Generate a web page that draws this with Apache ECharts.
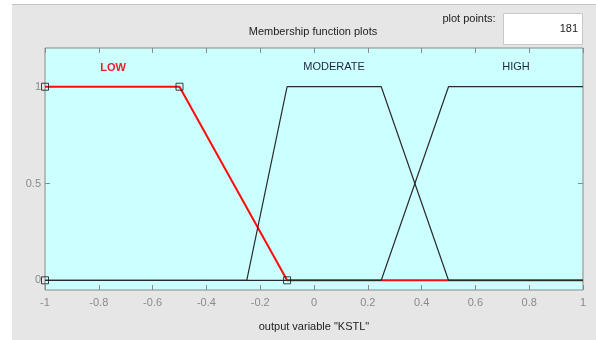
<!DOCTYPE html>
<html><head><meta charset="utf-8">
<script src="https://cdn.jsdelivr.net/npm/echarts@6/dist/echarts.min.js"></script>
<style>html,body{margin:0;padding:0;background:#fff}#c{width:596px;height:340px}</style>
</head><body><div id="c"></div>
<script>
const lowX = [-1, -0.5, -0.1, 1];
const lowY = [1, 1, 0, 0];
const moderateX = [-1, -0.25, -0.1, 0.25, 0.5, 1];
const moderateY = [0, 0, 1, 1, 0, 0];
const highX = [-1, 0.25, 0.5, 1];
const highY = [0, 0, 1, 1];
const markerX = [-1, -1, -0.5, -0.1];
const markerY = [0, 1, 1, 0];
const yTicks = [0, 0.5, 1];
const mfNames = ['LOW', 'MODERATE', 'HIGH'];
const titleText = 'Membership function plots';
const xAxisName = 'output variable "KSTL"';
const plotPoints = '181';

const zip = (xs, ys) => xs.map((x, i) => [x, ys[i]]);
const chart = echarts.init(document.getElementById('c'), null, {renderer: 'canvas'});
const font = '"Liberation Sans", Arial, sans-serif';
const tickStyle = {color: '#8a8a8a', width: 1};
const noLine = {show: false, onZero: false};
chart.setOption({
  animation: false,
  backgroundColor: '#ffffff',
  graphic: [
    {type: 'rect', z: -10, shape: {x: 12, y: 4, width: 584, height: 336}, style: {fill: '#e6e6e6'}},
    {type: 'line', z: -9, shape: {x1: 12, y1: 4.5, x2: 596, y2: 4.5}, style: {stroke: '#c4c4c4', lineWidth: 1}},
    {type: 'rect', shape: {x: 503.5, y: 13.5, width: 79, height: 31}, style: {fill: '#ffffff', stroke: '#c8c8c8', lineWidth: 1}},
    {type: 'text', x: 578, y: 29, style: {text: plotPoints, fill: '#222', font: '11px ' + font, align: 'right', verticalAlign: 'middle'}},
    {type: 'text', x: 469, y: 19, style: {text: 'plot points:', fill: '#222', font: '11px ' + font, align: 'center', verticalAlign: 'middle'}},
    {type: 'text', x: 313, y: 32, style: {text: titleText, fill: '#222', font: '11px ' + font, align: 'center', verticalAlign: 'middle'}},
    {type: 'text', x: 113, y: 68, z: 10, style: {text: mfNames[0], fill: '#ee1c25', font: 'bold 11px ' + font, align: 'center', verticalAlign: 'middle'}},
    {type: 'text', x: 334, y: 67, z: 10, style: {text: mfNames[1], fill: '#1e2440', font: '11px ' + font, align: 'center', verticalAlign: 'middle'}},
    {type: 'text', x: 516, y: 67, z: 10, style: {text: mfNames[2], fill: '#1e2440', font: '11px ' + font, align: 'center', verticalAlign: 'middle'}}
  ],
  grid: {left: 45, top: 48, right: 13, bottom: 50, show: true, backgroundColor: '#ccffff', borderColor: '#8a8a8a', borderWidth: 1},
  xAxis: [
    {type: 'value', min: -1, max: 1, interval: 0.2, position: 'bottom',
      axisLine: noLine, splitLine: {show: false},
      axisTick: {show: true, inside: true, length: 5, lineStyle: tickStyle},
      axisLabel: {color: '#8a8a8a', fontSize: 11, fontFamily: font, margin: 7, showMinLabel: true, showMaxLabel: true},
      name: xAxisName, nameLocation: 'middle', nameGap: 31,
      nameTextStyle: {color: '#222', fontSize: 11, fontFamily: font}},
    {type: 'value', min: -1, max: 1, interval: 0.2, position: 'top',
      axisLine: noLine, splitLine: {show: false},
      axisTick: {show: true, inside: true, length: 5, lineStyle: tickStyle},
      axisLabel: {show: false}}
  ],
  yAxis: [
    {type: 'value', min: -0.05, max: 1.2, position: 'left',
      axisLine: noLine, splitLine: {show: false},
      axisTick: {show: true, inside: true, length: 5, lineStyle: tickStyle, customValues: yTicks},
      axisLabel: {color: '#8a8a8a', fontSize: 11, fontFamily: font, margin: 4, customValues: yTicks}},
    {type: 'value', min: -0.05, max: 1.2, position: 'right',
      axisLine: noLine, splitLine: {show: false},
      axisTick: {show: true, inside: true, length: 5, lineStyle: tickStyle, customValues: yTicks},
      axisLabel: {show: false}}
  ],
  series: [
    {type: 'line', data: zip(lowX, lowY), symbol: 'none', lineStyle: {color: '#ff0a0a', width: 2}, z: 2},
    {type: 'line', data: zip(moderateX, moderateY), symbol: 'none', lineStyle: {color: '#2a2a2a', width: 1.2}, z: 3},
    {type: 'line', data: zip(highX, highY), symbol: 'none', lineStyle: {color: '#2a2a2a', width: 1.2}, z: 3},
    {type: 'scatter', data: zip(markerX, markerY), symbol: 'rect', symbolSize: 7,
      itemStyle: {color: 'rgba(0,0,0,0)', borderColor: '#111', borderWidth: 1}, z: 4}
  ]
});
</script></body></html>
